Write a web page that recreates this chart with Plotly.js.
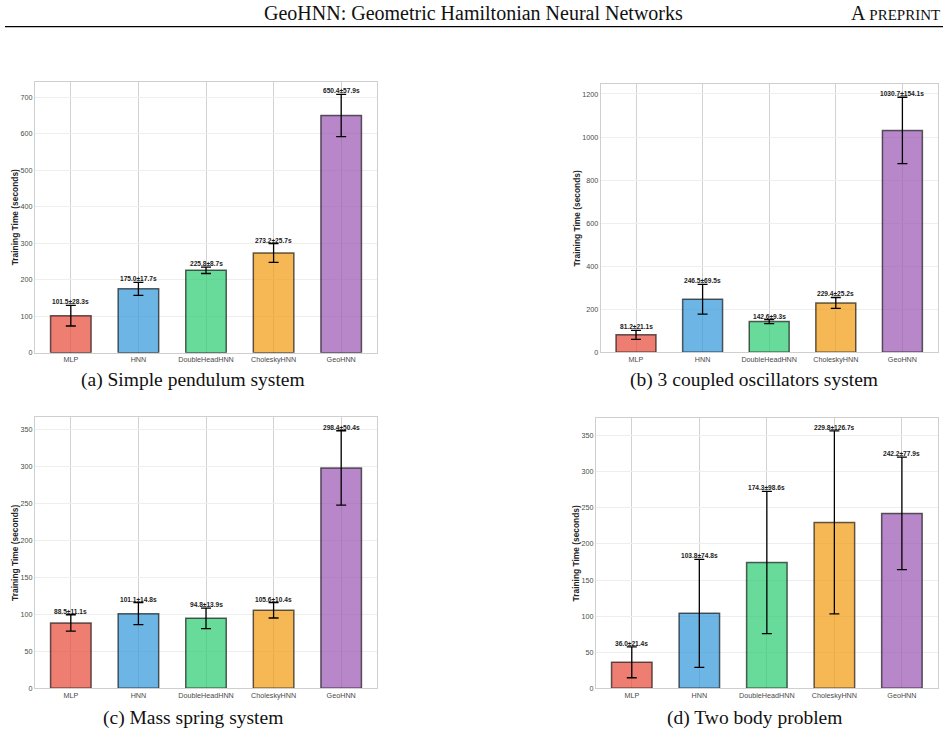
<!DOCTYPE html>
<html>
<head>
<meta charset="utf-8">
<script src="https://cdn.plot.ly/plotly-3.0.1.min.js"></script>
<style>
html,body{margin:0;padding:0;background:#fff;}
#chart{width:948px;height:735px;}
</style>
</head>
<body>
<div id="chart"></div>
<script>
const models = ["MLP", "HNN", "DoubleHeadHNN", "CholeskyHNN", "GeoHNN"];
const pendulumMean = [101.5, 175.0, 225.8, 273.2, 650.4];
const pendulumStd = [28.3, 17.7, 8.7, 25.7, 57.9];
const coupledMean = [81.2, 246.5, 142.6, 229.4, 1030.7];
const coupledStd = [21.1, 69.5, 9.3, 25.2, 154.1];
const springMean = [88.5, 101.1, 94.8, 105.6, 298.4];
const springStd = [11.1, 14.8, 13.9, 10.4, 50.4];
const twoBodyMean = [36.0, 103.8, 174.3, 229.8, 242.2];
const twoBodyStd = [21.4, 74.8, 98.6, 126.7, 77.9];
const captions = ["(a) Simple pendulum system", "(b) 3 coupled oscillators system", "(c) Mass spring system", "(d) Two body problem"];
const headerTitle = "GeoHNN: Geometric Hamiltonian Neural Networks";
const yTitle = "Training Time (seconds)";

const barColors = ["rgba(231,76,60,0.72)", "rgba(52,152,219,0.72)", "rgba(46,204,113,0.72)", "rgba(243,156,18,0.72)", "rgba(155,89,182,0.72)"];

const panels = [
  {mean: pendulumMean, std: pendulumStd, xd: [35/948, 377/948], yd: [1-352.7/735, 1-81.7/735], yr: [0, 743], dt: 100},
  {mean: coupledMean, std: coupledStd, xd: [600.7/948, 937.7/948], yd: [1-352.3/735, 1-84.3/735], yr: [0, 1245], dt: 200},
  {mean: springMean, std: springStd, xd: [35/948, 377/948], yd: [1-688.3/735, 1-417.3/735], yr: [0, 367], dt: 50},
  {mean: twoBodyMean, std: twoBodyStd, xd: [596/948, 937.7/948], yd: [1-688.3/735, 1-418.3/735], yr: [0, 374], dt: 50}
];

const traces = [];
const annotations = [];
const layout = {
  width: 948, height: 735,
  margin: {l: 0, r: 0, t: 0, b: 0},
  paper_bgcolor: "#ffffff",
  plot_bgcolor: "#ffffff",
  showlegend: false,
  font: {family: "Liberation Sans, Arial, sans-serif", color: "#444"},
  shapes: [
    {type: "line", xref: "paper", yref: "paper", x0: 5/948, x1: 943/948, y0: 1-26.7/735, y1: 1-26.7/735, line: {color: "#000", width: 1.2}}
  ]
};

panels.forEach((p, i) => {
  const n = i + 1;
  const xa = n === 1 ? "x" : "x" + n;
  const ya = n === 1 ? "y" : "y" + n;
  traces.push({
    type: "bar",
    x: models,
    y: p.mean,
    xaxis: xa, yaxis: ya,
    width: 0.6,
    marker: {color: barColors, line: {color: "rgba(0,0,0,0.62)", width: 1.5}},
    error_y: {type: "data", array: p.std, visible: true, color: "#000", thickness: 1.3, width: 5},
    hoverinfo: "none"
  });
  layout["xaxis" + (n === 1 ? "" : n)] = {
    domain: p.xd, anchor: ya, type: "category",
    range: [-0.53, 4.53],
    showgrid: true, gridcolor: "#d2d2d2", gridwidth: 1,
    showline: true, mirror: true, linecolor: "#cfcfcf", linewidth: 1,
    ticks: "", tickfont: {size: 7.2, color: "#4a4a4a"},
    zeroline: false, automargin: false
  };
  layout["yaxis" + (n === 1 ? "" : n)] = {
    domain: p.yd, anchor: xa,
    range: p.yr, dtick: p.dt, tick0: 0,
    showgrid: true, gridcolor: "#eeeeee", gridwidth: 1,
    showline: true, mirror: true, linecolor: "#cfcfcf", linewidth: 1,
    ticks: "", tickfont: {size: 7.2, color: "#4a4a4a"},
    zeroline: false, automargin: false,
    title: {text: yTitle, font: {size: 8.4, color: "#222", weight: "bold"}, standoff: 0}
  };
  p.mean.forEach((v, k) => {
    annotations.push({
      xref: xa, yref: ya, x: models[k], y: v + p.std[k],
      text: v.toFixed(1) + "±" + p.std[k].toFixed(1) + "s",
      showarrow: false, yanchor: "bottom", yshift: -2,
      font: {size: 6.6, color: "#1a1a1a", weight: "bold"}
    });
  });
});

const capPos = [[192.7, 380], [754, 380], [192.7, 718], [754, 718]];
captions.forEach((c, i) => {
  annotations.push({
    xref: "paper", yref: "paper", x: capPos[i][0]/948, y: 1 - capPos[i][1]/735,
    text: c, showarrow: false, xanchor: "center", yanchor: "middle",
    font: {family: "Liberation Serif, Times New Roman, serif", size: 19.5, color: "#111"}
  });
});

annotations.push({
  xref: "paper", yref: "paper", x: 473.5/948, y: 1 - 13/735,
  text: headerTitle, showarrow: false, xanchor: "center", yanchor: "middle",
  font: {family: "Liberation Serif, Times New Roman, serif", size: 20, color: "#111"}
});
annotations.push({
  xref: "paper", yref: "paper", x: 942/948, y: 1 - 13/735,
  text: "A <span style='font-size:15px'>PREPRINT</span>", showarrow: false, xanchor: "right", yanchor: "middle",
  font: {family: "Liberation Serif, Times New Roman, serif", size: 20, color: "#111"}
});

layout.annotations = annotations;

Plotly.newPlot("chart", traces, layout, {displayModeBar: false, staticPlot: true});
</script>
</body>
</html>
